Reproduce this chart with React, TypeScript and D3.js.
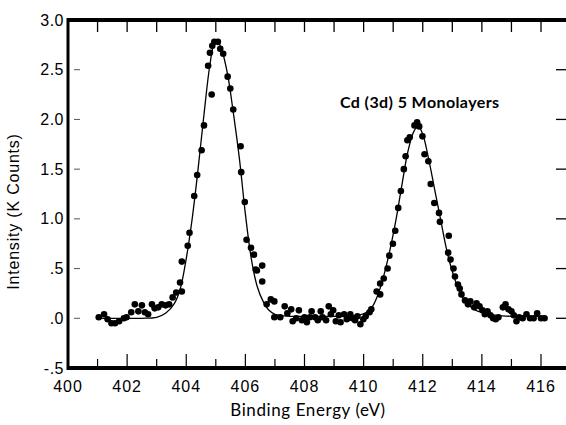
import React from "react";
import * as d3 from "d3";

const pointsX = [401.04,401.22,401.34,401.47,401.59,401.73,401.89,401.98,402.14,402.26,402.38,402.5,402.6,402.71,402.84,402.93,403.05,403.17,403.3,403.42,403.54,403.66,403.79,403.85,403.85,404.05,404.11,404.27,404.37,404.52,404.6,404.74,404.8,404.86,404.88,404.95,405.07,405.15,405.25,405.4,405.49,405.59,405.84,405.86,405.98,406.04,406.19,406.29,406.35,406.39,406.57,406.57,406.72,406.86,406.98,406.98,407.18,407.33,407.42,407.55,407.6,407.72,407.81,407.91,408.0,408.08,408.18,408.24,408.36,408.45,408.55,408.61,408.73,408.82,408.89,408.97,409.06,409.16,409.22,409.34,409.43,409.55,409.62,409.71,409.79,409.89,409.99,410.07,410.2,410.26,410.44,410.56,410.56,410.68,410.81,410.87,410.99,411.07,411.17,411.26,411.36,411.42,411.48,411.56,411.72,411.81,411.88,411.99,412.06,412.19,412.27,412.39,412.55,412.58,412.88,412.86,412.94,413.04,413.09,413.19,413.25,413.31,413.43,413.53,413.61,413.74,413.82,413.92,414.02,414.1,414.19,414.29,414.38,414.47,414.56,414.71,414.8,414.9,415.0,415.08,415.17,415.26,415.38,415.51,415.63,415.75,415.87,416.0,416.12];
const pointsY = [0.01,0.04,-0.01,-0.05,-0.05,-0.03,0.0,0.01,0.06,0.14,0.07,0.13,0.06,0.04,0.14,0.1,0.11,0.14,0.13,0.14,0.21,0.26,0.36,0.27,0.57,0.73,0.86,1.23,1.44,1.69,1.94,2.54,2.67,2.25,2.74,2.78,2.78,2.71,2.66,2.43,2.31,2.1,1.73,1.47,1.17,0.79,0.71,0.64,0.49,0.48,0.53,0.37,0.14,0.19,0.17,0.01,0.01,0.12,0.05,0.09,-0.03,0.0,0.08,-0.02,0.01,-0.04,0.01,0.07,0.01,-0.02,0.07,0.01,-0.02,0.12,0.04,0.08,-0.03,0.03,-0.04,0.04,-0.01,0.04,0.0,-0.02,0.02,-0.06,-0.01,0.02,0.06,0.09,0.27,0.24,0.35,0.4,0.5,0.63,0.75,0.88,1.11,1.28,1.5,1.63,1.79,1.82,1.94,1.97,1.93,1.83,1.65,1.58,1.35,1.16,1.06,0.97,0.83,0.66,0.59,0.5,0.42,0.34,0.3,0.24,0.18,0.14,0.17,0.11,0.15,0.12,0.08,0.04,0.07,0.03,0.0,-0.01,0.01,0.11,0.14,0.09,0.07,0.03,-0.03,0.01,0.0,0.04,0.0,0.0,0.05,0.0,0.0];

const fitX = [401.0,401.5,402.0,402.5,403.0,403.3,403.6,403.8,404.0,404.2,404.4,404.6,404.8,404.95,405.05,405.2,405.4,405.6,405.8,406.0,406.2,406.4,406.6,406.8,407.0,407.5,408.0,409.0,409.8,410.1,410.3,410.5,410.7,410.9,411.1,411.3,411.5,411.7,411.85,412.0,412.2,412.4,412.6,412.8,413.0,413.2,413.4,413.6,413.8,414.0,414.5,415.0,416.1];
const fitY = [0.0,0.0,0.0,0.0,0.01,0.05,0.15,0.3,0.6,1.0,1.5,2.05,2.55,2.77,2.79,2.7,2.45,2.05,1.6,1.05,0.6,0.32,0.17,0.08,0.04,0.02,0.02,0.02,0.03,0.06,0.12,0.25,0.45,0.7,1.0,1.35,1.68,1.88,1.93,1.85,1.6,1.3,1.0,0.7,0.47,0.3,0.18,0.12,0.08,0.06,0.03,0.02,0.02];

const yTickValues = [-0.5, 0, 0.5, 1.0, 1.5, 2.0, 2.5, 3.0];
const yTickLabels = ["-.5", ".0", ".5", "1.0", "1.5", "2.0", "2.5", "3.0"];
const xTickValues = [400, 402, 404, 406, 408, 410, 412, 414, 416];
const xMinorValues = [401, 402, 403, 404, 405, 406, 407, 408, 409, 410, 411, 412, 413, 414, 415, 416];

const W = 566, H = 425;
const L = 68, R = 568, T = 20, B = 368;

export default function App() {
  const x = d3.scaleLinear().domain([400, 416]).range([L, 541]);
  const y = d3.scaleLinear().domain([-0.5, 3.0]).range([B, T]);
  const line = d3.line<number>().x((d, i) => x(fitX[i])).y((d, i) => y(fitY[i])).curve(d3.curveCatmullRom.alpha(0.5));
  const pathD = line(fitX) || "";
  const sans = "'Liberation Sans', Arial, sans-serif";
  const humanist = "Lato, 'Open Sans', sans-serif";
  return (
    <svg width={W} height={H} style={{ position: "absolute", left: 0, top: 0, background: "#fff" }}>
      <rect x={0} y={0} width={W} height={H} fill="#fff" />
      {/* frame */}
      <line x1={L} y1={T} x2={W} y2={T} stroke="#000" strokeWidth={4} />
      <line x1={L} y1={T - 2} x2={L} y2={B + 2} stroke="#000" strokeWidth={3} />
      <line x1={L - 1} y1={B} x2={W} y2={B} stroke="#000" strokeWidth={4} />
      {/* top ticks */}
      {xMinorValues.map((v) => (
        <line key={"tt" + v} x1={x(v)} x2={x(v)} y1={T} y2={T + 12} stroke="#000" strokeWidth={1.3} />
      ))}
      {/* bottom ticks */}
      {xMinorValues.map((v) => (
        <line key={"bt" + v} x1={x(v)} x2={x(v)} y1={B} y2={B - (v % 2 === 0 ? 14 : 9)} stroke="#000" strokeWidth={1.2} />
      ))}
      {/* left ticks */}
      {yTickValues.slice(1, 7).map((v) => (
        <line key={"lt" + v} x1={L + 6} x2={L + 12} y1={y(v)} y2={y(v)} stroke="#555" strokeWidth={1} />
      ))}
      {/* right ticks */}
      {yTickValues.slice(1, 7).map((v) => (
        <line key={"rt" + v} x1={R - 12} x2={R} y1={y(v)} y2={y(v)} stroke="#000" strokeWidth={1.3} />
      ))}
      {/* y labels */}
      {yTickValues.map((v, i) => (
        <text key={"yl" + v} x={L - 4} y={y(v)} dy="0.35em" textAnchor="end" fontFamily={sans} fontSize={16} letterSpacing={0.5}>
          {yTickLabels[i]}
        </text>
      ))}
      {/* x labels */}
      {xTickValues.map((v) => (
        <text key={"xl" + v} x={x(v)} y={B + 24} textAnchor="middle" fontFamily={sans} fontSize={16} letterSpacing={1}>
          {String(v)}
        </text>
      ))}
      <text x={(228 + 388) / 2} y={B + 48} textAnchor="middle" fontFamily={humanist} fontSize={17} letterSpacing={0.6}>
        Binding Energy (eV)
      </text>
      <text transform={`translate(19,${(123 + 300) / 2}) rotate(-90)`} textAnchor="middle" fontFamily={sans} fontSize={16} letterSpacing={0.8}>
        Intensity (K Counts)
      </text>
      <text x={340} y={108} fontFamily={humanist} fontWeight="bold" fontSize={16} letterSpacing={0.4}>
        Cd (3d) 5 Monolayers
      </text>
      {/* fit line */}
      <path d={pathD} fill="none" stroke="#000" strokeWidth={1.3} />
      {/* points */}
      {pointsX.map((v, i) => (
        <circle key={"p" + i} cx={x(v)} cy={y(pointsY[i])} r={3.3} fill="#000" />
      ))}
    </svg>
  );
}
